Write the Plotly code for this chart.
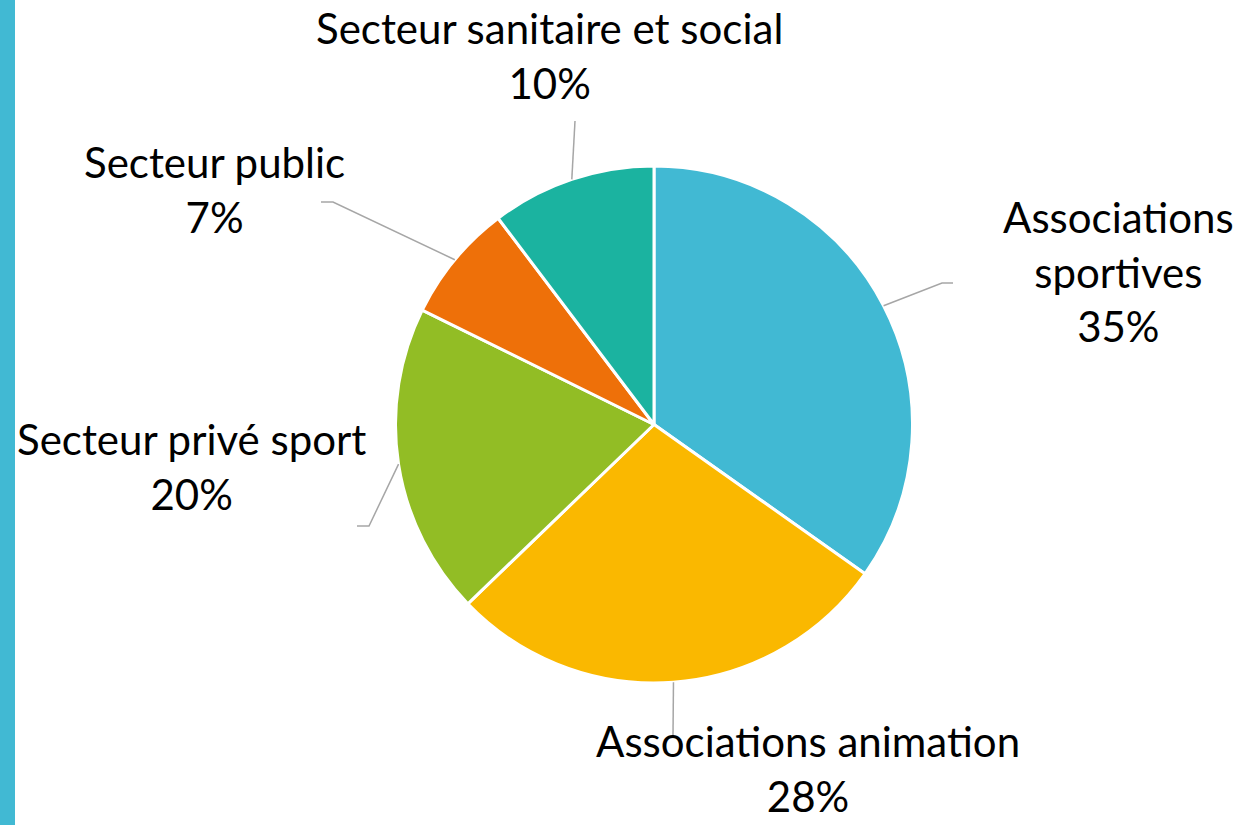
import math
import plotly.graph_objects as go

labels = ["Associations sportives", "Associations animation", "Secteur privé sport",
          "Secteur public", "Secteur sanitaire et social"]
display = ["Associations<br>sportives", "Associations animation", "Secteur privé sport",
           "Secteur public", "Secteur sanitaire et social"]
values = [34.8, 28.0, 19.5, 7.4, 10.3]
colors = ["#41B9D3", "#FAB800", "#92BD25", "#EE7009", "#1BB3A0"]

W, H = 1252, 825
CX, CY, R = 654, 424.5, 258.5

# label layout (pixel positions of text block centers, leader elbows/ends)
label_pos = [(1118, 271), (808, 768), (191, 466), (214, 189), (549, 56)]
elbows = [(942, 283), (673, 735), (369, 526), (333, 202), (575, 121)]
ends = [(953, 283), (673, 735), (357, 526), (321, 202), (575, 121)]

def px(x):
    return x / W

def py(y):
    return 1 - y / H

fig = go.Figure()
fig.add_trace(go.Pie(
    labels=labels, values=values, sort=False, direction="clockwise", rotation=0,
    marker=dict(colors=colors, line=dict(color="white", width=3)),
    textinfo="none", hoverinfo="label+percent", showlegend=False,
    domain=dict(x=[px(CX - R), px(CX + R)], y=[py(CY + R), py(CY - R)]),
))

shapes = [dict(type="rect", xref="paper", yref="paper", x0=0, x1=px(15), y0=0, y1=1,
               fillcolor="#41B9D3", line=dict(width=0), layer="below")]
annotations = []
total = sum(values)
cum = 0
for i, v in enumerate(values):
    mid = (cum + v / 2) / total * 2 * math.pi
    cum += v
    sx = CX + R * math.sin(mid)
    sy = CY - R * math.cos(mid)
    ex, ey = elbows[i]
    fx, fy = ends[i]
    path = f"M {px(sx)},{py(sy)} L {px(ex)},{py(ey)} L {px(fx)},{py(fy)}"
    shapes.append(dict(type="path", xref="paper", yref="paper", path=path,
                       line=dict(color="#A6A6A6", width=1.5)))
    lx, ly = label_pos[i]
    pct = int(math.floor(v / total * 100 + 0.5))
    annotations.append(dict(
        xref="paper", yref="paper", x=px(lx), y=py(ly), xanchor="center", yanchor="middle",
        text=f"{display[i]}<br>{pct}%", showarrow=False, align="center",
        font=dict(family="Lato", size=42, color="#000000"),
    ))

fig.update_layout(
    width=W, height=H, margin=dict(l=0, r=0, t=0, b=0),
    paper_bgcolor="white", plot_bgcolor="white",
    shapes=shapes, annotations=annotations,
)
fig.write_html("out.html")
